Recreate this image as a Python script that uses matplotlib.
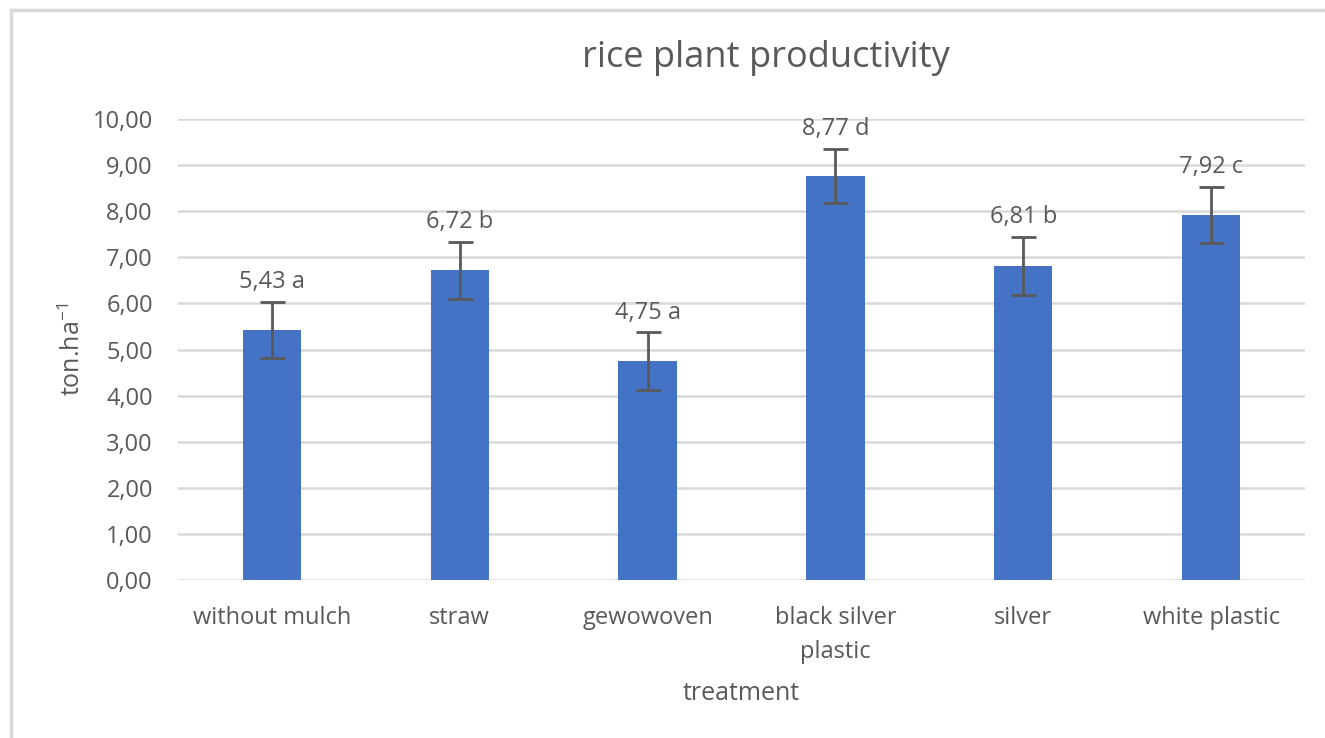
import numpy as np
import matplotlib.pyplot as plt
from matplotlib.lines import Line2D

# data
treatments = ['without mulch', 'straw', 'gewowoven', 'black silver\nplastic', 'silver', 'white plastic']
yields = [5.43, 6.72, 4.75, 8.77, 6.81, 7.92]
errors = [0.61, 0.62, 0.62, 0.59, 0.63, 0.60]
letters = ['a', 'b', 'a', 'd', 'b', 'c']

plt.rcParams['font.family'] = ['Open Sans', 'DejaVu Sans']
grey = '#595959'

fig = plt.figure(figsize=(13.25, 7.38), dpi=100)
ax = fig.add_axes([178 / 1325, 1 - 580 / 738, (1305 - 178) / 1325, (580 - 119) / 738])

x = np.arange(len(treatments))
ax.bar(x, yields, width=0.31, color='#4472C4', zorder=3)
ax.errorbar(x, yields, yerr=errors, fmt='none', ecolor=grey, elinewidth=2,
            capsize=9, capthick=2, zorder=4)

# nilai + huruf notasi di atas error bar
for xi, v, e, l in zip(x, yields, errors, letters):
    ax.annotate(f'{v:.2f}'.replace('.', ',') + ' ' + l, (xi, v + e),
                xytext=(0, 10), textcoords='offset points', ha='center', va='baseline',
                fontsize=17, color=grey)

ax.set_ylim(0, 10)
ax.set_xlim(-0.5, 5.5)
ax.set_yticks(np.arange(0, 11, 1))
ax.set_yticklabels([f'{t:.2f}'.replace('.', ',') for t in np.arange(0, 11, 1)])
ax.set_xticks(x)
ax.set_xticklabels(treatments, linespacing=1.55)
ax.tick_params(axis='both', length=0, labelsize=17, labelcolor=grey)
ax.tick_params(axis='y', pad=18)
ax.tick_params(axis='x', pad=19)
ax.grid(axis='y', color='#d9d9d9', linewidth=1.8, zorder=0)
for s in ax.spines.values():
    s.set_visible(False)

ax.set_xlabel('treatment', fontsize=18, color=grey, labelpad=12)
ax.set_ylabel(r'ton.ha$^{\mathregular{-1}}$', fontsize=18, color=grey, labelpad=5)
fig.text(766 / 1325, 1 - 58 / 738, 'rice plant productivity', fontsize=26, color=grey,
         ha='center', va='center')

# bingkai chart (terpotong)
fig.add_artist(Line2D([11 / 1325, 11 / 1325], [0, 1 - 10 / 738], color='#d9d9d9', lw=2.5,
                      transform=fig.transFigure))
fig.add_artist(Line2D([11 / 1325, 1], [1 - 10 / 738, 1 - 10 / 738], color='#d9d9d9', lw=2.5,
                      transform=fig.transFigure))

fig.savefig('out.png', dpi=100)
